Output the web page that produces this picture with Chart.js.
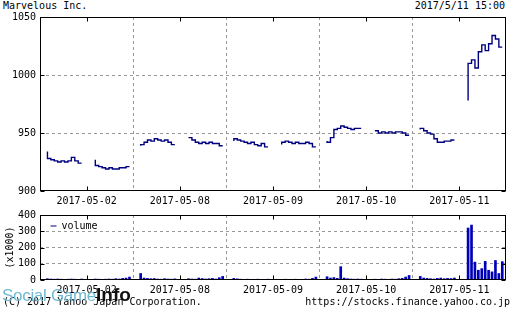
<!DOCTYPE html>
<html>
<head>
<meta charset="utf-8">
<script src="https://cdn.jsdelivr.net/npm/chart.js@4/dist/chart.umd.min.js"></script>
<style>
    body { margin: 0; width: 528px; height: 310px; background: #fff; position: relative; overflow: hidden; }
    .txt { position: absolute; font: 10px "DejaVu Sans Mono", monospace; color: #000; white-space: pre; line-height: 12px; }
    #priceBox { position: absolute; left: 0; top: 0; width: 528px; height: 210px; }
    #volBox { position: absolute; left: 0; top: 205px; width: 528px; height: 105px; }
    .logo { position: absolute; left: 2px; top: 284px; white-space: pre; }
</style>
</head>
<body>
<div class="txt" style="left:3px;top:0px;">Marvelous Inc.</div>
<div class="txt" style="right:23px;top:0px;">2017/5/11 15:00</div>
<div id="priceBox"><canvas id="priceChart" width="528" height="210"></canvas></div>
<div id="volBox"><canvas id="volChart" width="528" height="105"></canvas></div>
<div class="txt" style="left:3px;top:296px;">(C) 2017 Yahoo Japan Corporation.</div>
<div class="txt" style="right:18px;top:296px;">https://stocks.finance.yahoo.co.jp</div>
<div class="logo"><span style="font:17px 'Liberation Sans', sans-serif;color:#6fb9d2;letter-spacing:-0.3px;">Social Game</span><span style="font:bold 19px 'Liberation Sans', sans-serif;color:#111;">Info</span></div>

<script>
var days = ['2017-05-02', '2017-05-08', '2017-05-09', '2017-05-10', '2017-05-11'];
var amTimes = ['9:00', '9:15', '9:30', '9:45', '10:00', '10:15', '10:30', '10:45', '11:00', '11:15', '11:30'];
var pmTimes = ['12:30', '12:45', '13:00', '13:15', '13:30', '13:45', '14:00', '14:15', '14:30', '14:45', '15:00'];

// price, one row per session (morning, afternoon) for each day
var priceAm = [
    [934, 928, 927, 926, 925, 926, 925, 926, 929, 926, 924],
    [939, 940, 942, 944, 943, 945, 944, 943, 944, 942, 940],
    [943, 945, 944, 943, 942, 941, 942, 940, 939, 941, 938],
    [943, 942, 946, 953, 954, 956, 955, 954, 953, 954, 954],
    [953, 954, 952, 950, 949, 945, 942, 942, 943, 943, 944]
];
var pricePm = [
    [927, 922, 921, 920, 919, 920, 919, 919, 920, 920, 921],
    [946, 946, 944, 942, 941, 942, 941, 942, 941, 941, 939],
    [940, 942, 943, 942, 941, 942, 941, 941, 942, 941, 938],
    [952, 952, 950, 951, 950, 951, 950, 951, 951, 950, 948],
    [978, 1010, 1013, 1006, 1020, 1026, 1021, 1027, 1034, 1031, 1024]
];

// volume (x1000)
var volAm = [
    [8, 6, 5, 6, 5, 4, 5, 6, 5, 4, 6],
    [40, 12, 10, 8, 9, 6, 5, 8, 6, 5, 7],
    [10, 7, 5, 4, 5, 3, 4, 5, 4, 3, 5],
    [20, 12, 15, 10, 82, 12, 8, 6, 5, 6, 5],
    [22, 12, 10, 8, 6, 10, 12, 8, 10, 9, 12]
];
var volPm = [
    [6, 5, 4, 5, 6, 5, 8, 6, 10, 12, 18],
    [8, 6, 5, 12, 9, 6, 8, 10, 6, 14, 22],
    [4, 5, 3, 4, 5, 4, 4, 6, 5, 10, 18],
    [5, 4, 6, 5, 4, 6, 5, 8, 10, 18, 28],
    [320, 338, 110, 60, 70, 115, 60, 50, 120, 40, 113]
];

var priceTicks = [900, 950, 1000, 1050];
var volTicks = [0, 100, 200, 300, 400];

var lineColor = '#00007f';
var barColor = '#0000b8';
var fontMono = '"DejaVu Sans Mono", monospace';

function timeToX(dayIdx, t) {
    var p = t.split(':');
    var m = Number(p[0]) * 60 + Number(p[1]) - 540;
    return dayIdx + 0.08 + m / 360 * 0.88;
}

function buildPoints(am, pm, gaps) {
    var pts = [];
    for (var d = 0; d < days.length; d++) {
        for (var i = 0; i < amTimes.length; i++) {
            pts.push({ x: timeToX(d, amTimes[i]), y: am[d][i] });
        }
        if (gaps) pts.push({ x: timeToX(d, '12:00'), y: null });
        for (var j = 0; j < pmTimes.length; j++) {
            pts.push({ x: timeToX(d, pmTimes[j]), y: pm[d][j] });
        }
        if (gaps) pts.push({ x: d + 0.99, y: null });
    }
    return pts;
}

function xTicks(scale) {
    var t = [];
    for (var v = 0; v <= days.length * 2; v++) t.push({ value: v / 2 });
    scale.ticks = t;
}

var frame = {
    id: 'frame',
    afterDraw: function (chart) {
        var a = chart.chartArea;
        var ctx = chart.ctx;
        var xs = chart.scales.x;
        var ys = chart.scales.y;
        var l = Math.round(a.left) + 0.5, r = Math.round(a.right) - 0.5;
        var t = Math.round(a.top) + 0.5, b = Math.round(a.bottom) - 0.5;
        ctx.save();
        ctx.strokeStyle = '#000';
        ctx.lineWidth = 1;
        ctx.strokeRect(l, t, r - l, b - t);
        ctx.beginPath();
        for (var d = 0; d < days.length; d++) {
            var px = Math.round(xs.getPixelForValue(d + 0.5)) + 0.5;
            ctx.moveTo(px, t); ctx.lineTo(px, t + 4);
            ctx.moveTo(px, b); ctx.lineTo(px, b - 4);
        }
        ys.ticks.forEach(function (tk) {
            var py = Math.round(ys.getPixelForValue(tk.value)) + 0.5;
            ctx.moveTo(l, py); ctx.lineTo(l + 4, py);
            ctx.moveTo(r, py); ctx.lineTo(r - 4, py);
        });
        ctx.stroke();
        if (chart.options.plugins.frame && chart.options.plugins.frame.legend) {
            ctx.strokeStyle = lineColor;
            ctx.beginPath();
            ctx.moveTo(l + 10, t + 10.5);
            ctx.lineTo(l + 16, t + 10.5);
            ctx.stroke();
            ctx.fillStyle = '#000';
            ctx.font = '10px ' + fontMono;
            ctx.textBaseline = 'middle';
            ctx.fillText(chart.options.plugins.frame.legend, l + 21, t + 11);
        }
        ctx.restore();
    }
};

function xScale(showLabels) {
    return {
        type: 'linear',
        min: 0,
        max: days.length,
        offset: false,
        afterBuildTicks: xTicks,
        afterFit: function (s) { s.height = showLabels; },
        grid: {
            drawTicks: false,
            offset: false,
            color: function (c) {
                var v = c.tick ? c.tick.value : 0;
                return (v > 0 && v < days.length && v % 1 === 0) ? '#999' : 'rgba(0,0,0,0)';
            }
        },
        border: { display: false, dash: [3, 3] },
        ticks: {
            autoSkip: false,
            maxRotation: 0,
            padding: 4,
            color: '#000',
            font: { family: fontMono, size: 10 },
            callback: function (v) { return (v % 1 === 0.5) ? days[Math.floor(v)] : ''; }
        }
    };
}

function yScale(min, max, ticks, title) {
    return {
        min: min,
        max: max,
        afterBuildTicks: function (s) { s.ticks = ticks.map(function (v) { return { value: v }; }); },
        afterFit: function (s) { s.width = 40; },
        grid: {
            drawTicks: false,
            color: function (c) {
                var v = c.tick ? c.tick.value : min;
                return (v > min && v < max) ? '#999' : 'rgba(0,0,0,0)';
            }
        },
        border: { display: false, dash: [3, 3] },
        ticks: {
            padding: 4,
            color: '#000',
            font: { family: fontMono, size: 10 },
            callback: function (v) { return String(v); }
        },
        title: title ? {
            display: true,
            text: title,
            color: '#000',
            padding: { top: 4, bottom: 0 },
            font: { family: fontMono, size: 10 }
        } : { display: false }
    };
}

new Chart(document.getElementById('priceChart').getContext('2d'), {
    type: 'line',
    data: {
        datasets: [{
            label: 'price',
            data: buildPoints(priceAm, pricePm, true),
            borderColor: lineColor,
            borderWidth: 1.4,
            stepped: 'after',
            pointRadius: 0,
            spanGaps: false,
            fill: false
        }]
    },
    options: {
        responsive: false,
        animation: false,
        layout: { padding: { left: 0, right: 22, top: 17, bottom: 0 } },
        scales: {
            x: xScale(19),
            y: yScale(900, 1050, priceTicks, null)
        },
        plugins: {
            legend: { display: false },
            tooltip: { enabled: false }
        }
    },
    plugins: [frame]
});

new Chart(document.getElementById('volChart').getContext('2d'), {
    type: 'bar',
    data: {
        datasets: [{
            label: 'volume',
            data: buildPoints(volAm, volPm, false),
            backgroundColor: barColor,
            barThickness: 2,
            borderWidth: 0
        }]
    },
    options: {
        responsive: false,
        animation: false,
        layout: { padding: { left: 0, right: 22, top: 10, bottom: 0 } },
        scales: {
            x: xScale(30),
            y: yScale(0, 400, volTicks, '(x1000)')
        },
        plugins: {
            legend: { display: false },
            tooltip: { enabled: false },
            frame: { legend: 'volume' }
        }
    },
    plugins: [frame]
});
</script>
</body>
</html>
